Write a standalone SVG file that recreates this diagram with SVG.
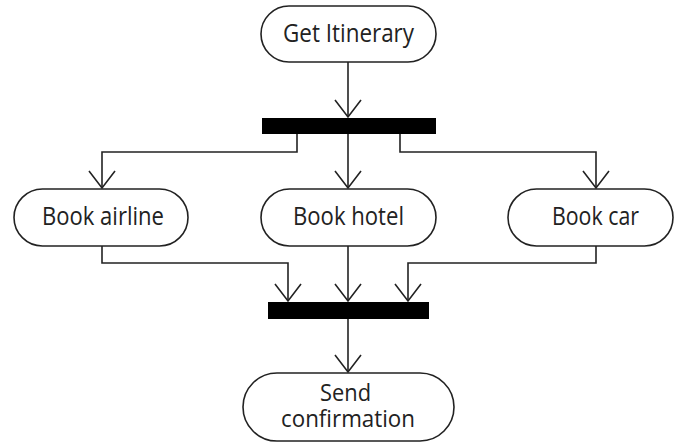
<svg xmlns="http://www.w3.org/2000/svg" width="674" height="443" viewBox="0 0 674 443">
  <style>
    .node { fill: #ffffff; stroke: #222222; stroke-width: 1.6; }
    .bar { fill: #000000; }
    .label { font-family: "Open Sans", "Noto Sans", sans-serif; font-size: 25px; font-weight: 500; fill: #222222; text-anchor: middle; }
    .label.two-line { font-size: 23px; }
    .flow { fill: none; stroke: #222222; stroke-width: 1.6; marker-end: url(#chevron); }
  </style>
  <defs>
    <marker id="chevron" markerUnits="userSpaceOnUse" markerWidth="40" markerHeight="40" refX="0" refY="0" viewBox="-20 -20 40 40" orient="auto" overflow="visible">
      <path d="M -17 -13 L 0 0 L -17 13" fill="none" stroke="#222222" stroke-width="1.6"/>
    </marker>
  </defs>

  <!-- connectors -->
  <g id="connectors">
    <path class="flow" d="M 348 62 L 348 117"/>
    <path class="flow" d="M 297 134 L 297 152 L 102 152 L 102 188"/>
    <path class="flow" d="M 348 134 L 348 188"/>
    <path class="flow" d="M 400 134 L 400 152 L 596 152 L 596 188"/>
    <path class="flow" d="M 102 246 L 102 263 L 288 263 L 288 301"/>
    <path class="flow" d="M 348 246 L 348 301"/>
    <path class="flow" d="M 596 246 L 596 263 L 408 263 L 408 301"/>
    <path class="flow" d="M 348 319 L 348 372"/>
  </g>

  <g id="get-itinerary">
    <rect class="node" x="261" y="6" width="175" height="56" rx="28"/>
    <text class="label" x="348.5" y="42" textLength="131" lengthAdjust="spacingAndGlyphs">Get Itinerary</text>
  </g>

  <g id="fork">
    <rect class="bar" x="262" y="118" width="174" height="16"/>
  </g>

  <g id="book-airline">
    <rect class="node" x="14" y="189" width="174" height="57" rx="28.5"/>
    <text class="label" x="103" y="225" textLength="122" lengthAdjust="spacingAndGlyphs">Book airline</text>
  </g>

  <g id="book-hotel">
    <rect class="node" x="261" y="189" width="175" height="57" rx="28.5"/>
    <text class="label" x="348.5" y="225" textLength="111" lengthAdjust="spacingAndGlyphs">Book hotel</text>
  </g>

  <g id="book-car">
    <rect class="node" x="508" y="189" width="165" height="57" rx="28.5"/>
    <text class="label" x="595.5" y="225" textLength="87" lengthAdjust="spacingAndGlyphs">Book car</text>
  </g>

  <g id="join">
    <rect class="bar" x="268" y="302" width="161" height="17"/>
  </g>

  <g id="send-confirmation">
    <rect class="node" x="243" y="373" width="211" height="68" rx="34"/>
    <text class="label two-line">
      <tspan x="348.5" y="401" textLength="51" lengthAdjust="spacingAndGlyphs">Send</tspan>
      <tspan x="348" y="427" textLength="134" lengthAdjust="spacingAndGlyphs">confirmation</tspan>
    </text>
  </g>
</svg>
